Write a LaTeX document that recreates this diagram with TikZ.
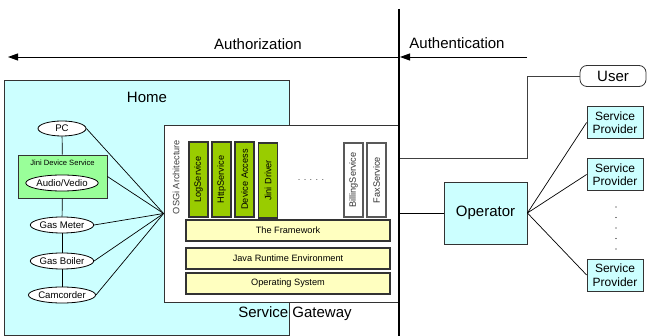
\documentclass[tikz,border=0pt]{standalone}
\usepackage{fontspec}
\setmainfont{Liberation Sans}
\usetikzlibrary{arrows.meta,shapes.geometric}

\definecolor{homecyan}{HTML}{CCFFFF}
\definecolor{jinigreen}{HTML}{99FF99}
\definecolor{bundlegreen}{HTML}{99CC00}
\definecolor{layeryellow}{HTML}{FFFFC0}
\definecolor{edgegray}{HTML}{333333}

\newcommand\fbig{\fontsize{15}{17}\selectfont}
\newcommand\fmid{\fontsize{12}{13.5}\selectfont}
\newcommand\fdev{\fontsize{9.6}{11}\selectfont}
\newcommand\fsmall{\fontsize{9.2}{10}\selectfont}
\newcommand\ftiny{\fontsize{7.6}{9}\selectfont}

\tikzset{
  x=1pt, y=-1pt,
  box/.style={draw=edgegray, line width=0.8pt, inner sep=0pt, rectangle},
  device/.style={draw=black, line width=0.8pt, ellipse, inner sep=0pt, fill=white, font=\fdev},
  bundle/.style={box, line width=1.1pt, fill=bundlegreen, minimum width=19pt, minimum height=75pt},
  extbundle/.style={box, line width=1.1pt, draw=gray!70!black, fill=white, minimum width=19pt, minimum height=74pt},
  layerbar/.style={box, line width=1.1pt, fill=layeryellow, minimum width=204pt, minimum height=21pt, font=\fsmall},
  provider/.style={box, fill=homecyan, minimum width=56pt, minimum height=32pt, font=\fmid, align=center},
  wire/.style={draw=black, line width=0.7pt},
  tip/.style={-{Triangle[length=10pt,width=7pt]}, line width=0.9pt},
  label/.style={inner sep=0pt, font=\fbig}
}

\begin{document}
\begin{tikzpicture}
\useasboundingbox (0,0) rectangle (647,336);
\fill[white] (0,0) rectangle (647,336);

% ---- home network ----
\node[box, fill=homecyan, minimum width=285pt, minimum height=255pt] (home) at (146.5,207.5) {};
\node[label] (homelbl) at (147,97) {Home};

% ---- service gateway ----
\node[box, fill=white, minimum width=235pt, minimum height=177pt] (gw) at (281.5,213.5) {};
\node[label] (gwlbl) at (295,314) {Service Gateway};

\node[inner sep=0pt, rotate=90, font=\fsmall, text=black!75] (osgi) at (176,177) {OSGi Architecture};
\node[bundle] (logs) at (198.5,179.5) {};
\node[rotate=90, font=\fsmall, inner sep=0pt] at (logs) {LogService};
\node[bundle] (https) at (221.5,179.5) {};
\node[rotate=90, font=\fsmall, inner sep=0pt] at (https) {HttpService};
\node[bundle] (devacc) at (244.5,179.5) {};
\node[rotate=90, font=\fsmall, inner sep=0pt] at (devacc) {Device Access};
\node[bundle] (jinidrv) at (268,180.5) {};
\node[rotate=90, font=\fsmall, inner sep=0pt] at (jinidrv) {Jini Driver};
\node[inner sep=0pt, font=\fsmall, text=black!70] (more) at (311,180) {. . . . .};
\node[extbundle] (billing) at (353.5,180) {};
\node[rotate=90, font=\fsmall, inner sep=0pt, text=black!80] at (billing) {BillingService};
\node[extbundle] (fax) at (376.5,180) {};
\node[rotate=90, font=\fsmall, inner sep=0pt, text=black!80] at (fax) {FaxService};

\node[layerbar] (fw) at (288,230.5) {The Framework};
\node[layerbar] (jre) at (288,258.5) {Java Runtime Environment};
\node[layerbar] (os) at (288,283.5) {Operating System};

% ---- home devices ----
\node[box, fill=jinigreen, minimum width=89pt, minimum height=43pt] (jini) at (62.5,176.5) {};
\node[inner sep=0pt, font=\ftiny] (jinilbl) at (62.5,163) {Jini Device Service};
\node[device, minimum width=48pt, minimum height=15pt] (pc) at (62,128.5) {PC};
\node[device, minimum width=70pt, minimum height=16pt] (av) at (62,183) {Audio/Vedio};
\node[device, minimum width=60pt, minimum height=16pt] (meter) at (62,225) {Gas Meter};
\node[device, minimum width=60pt, minimum height=16pt] (boiler) at (62,261) {Gas Boiler};
\node[device, minimum width=62pt, minimum height=16pt] (cam) at (62,295) {Camcorder};

\draw[wire] (pc) -- (jini);
\draw[wire] (jini) -- (meter);
\draw[wire] (meter) -- (boiler);
\draw[wire] (boiler) -- (cam);
\coordinate (hub) at (gw.west);
\foreach \d in {pc, jini, meter, boiler, cam}
  \draw[wire] (\d.east) -- (hub);

% ---- boundary and flows ----
\coordinate (vtop) at (399,9);
\coordinate (vbot) at (399,336);
\draw[line width=1.8pt] (vtop) -- (vbot);

\coordinate (aleft) at (8,57);
\coordinate (amid) at (400,57);
\coordinate (aright) at (527,57);
\draw[tip] (amid) -- (aleft);
\draw[tip] (aright) -- (amid);
\node[label] (authz) at (258,44) {Authorization};
\node[label] (authn) at (457,43) {Authentication};

% ---- operator side ----
\node[box, fill=white, rounded corners=7pt, minimum width=66pt, minimum height=21pt, font=\fbig] (user) at (613,76) {User};
\coordinate (ucorner) at (527,158);
\coordinate (ujoin) at (400,158);
\draw[wire, draw=black!75] (user.west) -| (ucorner) -- (ujoin);

\node[box, fill=homecyan, minimum width=83pt, minimum height=62pt, font=\fbig] (op) at (485.5,213) {Operator};
\coordinate (opjoin) at (400,213);
\draw[wire] (opjoin) -- (op.west);

\node[provider] (sp1) at (615,122.5) {Service\\Provider};
\node[provider] (sp2) at (615,174.5) {Service\\Provider};
\node[provider] (sp3) at (615,275) {Service\\Provider};
\foreach \s in {sp1, sp2, sp3}
  \draw[wire] (op.east) -- (\s.west);
\foreach \k in {0,...,4}
  \fill (616,207+10.5*\k) circle (0.6pt);
\end{tikzpicture}
\end{document}
